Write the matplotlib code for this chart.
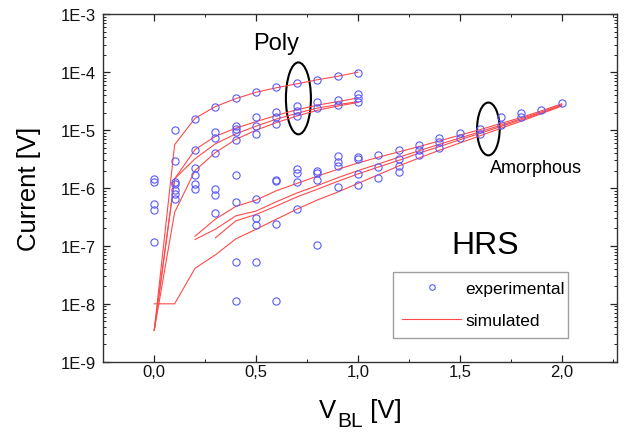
import numpy as np
import matplotlib
matplotlib.use("Agg")
import matplotlib.pyplot as plt
from matplotlib.patches import Ellipse
from matplotlib.lines import Line2D
from matplotlib.ticker import FuncFormatter, LogLocator, MultipleLocator, FixedLocator

plt.rcParams['font.family'] = ['Liberation Sans', 'DejaVu Sans']
plt.rcParams['mathtext.default'] = 'regular'

# ---------------- data ----------------
poly_x = [0.1,
          0.2, 0.2,
          0.3, 0.3, 0.3, 0.3,
          0.4, 0.4, 0.4, 0.4, 0.4,
          0.5, 0.5, 0.5, 0.5,
          0.6, 0.6, 0.6, 0.6,
          0.7, 0.7, 0.7, 0.7,
          0.8, 0.8, 0.8,
          0.9, 0.9, 0.9,
          1.0, 1.0, 1.0, 1.0]
poly_y = [1.0e-5,
          1.58e-5, 4.5e-6,
          2.55e-5, 9.3e-6, 7.3e-6, 4.1e-6,
          3.55e-5, 1.19e-5, 1.04e-5, 9.2e-6, 6.8e-6,
          4.5e-5, 1.66e-5, 1.16e-5, 8.6e-6,
          5.5e-5, 2.09e-5, 1.66e-5, 1.27e-5,
          6.45e-5, 2.57e-5, 2.16e-5, 1.78e-5,
          7.3e-5, 3.1e-5, 2.4e-5,
          8.7e-5, 3.35e-5, 2.7e-5,
          9.7e-5, 4.2e-5, 3.55e-5, 3.0e-5]

amor_x = [0.0, 0.0, 0.0, 0.0, 0.0,
          0.1, 0.1, 0.1, 0.1, 0.1, 0.1,
          0.2, 0.2, 0.2, 0.2,
          0.3, 0.3, 0.3,
          0.4, 0.4, 0.4, 0.4,
          0.5, 0.5, 0.5, 0.5,
          0.6, 0.6, 0.6, 0.6,
          0.7, 0.7, 0.7, 0.7,
          0.8, 0.8, 0.8, 0.8,
          0.9, 0.9, 0.9, 0.9,
          1.0, 1.0, 1.0, 1.0,
          1.1, 1.1, 1.1,
          1.2, 1.2, 1.2, 1.2,
          1.3, 1.3, 1.3,
          1.4, 1.4, 1.4,
          1.5, 1.5,
          1.6, 1.6,
          1.7, 1.7,
          1.8, 1.8,
          1.9,
          2.0]
amor_y = [1.44e-6, 1.29e-6, 5.2e-7, 4.2e-7, 1.15e-7,
          2.95e-6, 1.29e-6, 1.18e-6, 9.4e-7, 7.9e-7, 6.5e-7,
          2.2e-6, 1.7e-6, 1.16e-6, 9.6e-7,
          9.6e-7, 7.6e-7, 3.7e-7,
          1.7e-6, 5.8e-7, 5.2e-8, 1.1e-8,
          6.5e-7, 3.0e-7, 2.3e-7, 5.2e-8,
          1.35e-6, 1.3e-6, 2.4e-7, 1.1e-8,
          2.14e-6, 1.82e-6, 1.29e-6, 4.4e-7,
          2.0e-6, 1.8e-6, 1.35e-6, 1.05e-7,
          3.6e-6, 2.8e-6, 2.4e-6, 1.05e-6,
          3.5e-6, 3.2e-6, 1.74e-6, 1.12e-6,
          3.7e-6, 2.35e-6, 1.48e-6,
          4.6e-6, 3.2e-6, 2.37e-6, 1.9e-6,
          5.5e-6, 4.6e-6, 3.7e-6,
          7.4e-6, 6.2e-6, 4.9e-6,
          8.9e-6, 7.2e-6,
          1.03e-5, 8.6e-6,
          1.66e-5, 1.23e-5,
          1.98e-5, 1.66e-5,
          2.2e-5,
          2.9e-5]

# simulated curves
sim_poly_x = [0.0, 0.1, 0.2, 0.3, 0.4, 0.5, 0.6, 0.7, 0.8, 0.9, 1.0]
sim_p1 = [3.5e-9, 5.6e-6, 1.6e-5, 2.55e-5, 3.5e-5, 4.5e-5, 5.4e-5, 6.3e-5, 7.4e-5, 8.5e-5, 1.0e-4]
sim_p2 = [3.5e-9, 1.44e-6, 4.6e-6, 7.8e-6, 1.08e-5, 1.4e-5, 1.8e-5, 2.25e-5, 2.7e-5, 3.1e-5, 3.6e-5]
sim_p3 = [3.5e-9, 1.44e-6, 3.2e-6, 5.8e-6, 8.6e-6, 1.17e-5, 1.55e-5, 1.95e-5, 2.4e-5, 2.75e-5, 3.1e-5]
sim_p4 = [3.5e-9, 3.8e-7, 2.0e-6, 4.1e-6, 6.9e-6, 1.0e-5, 1.35e-5, 1.75e-5, 2.2e-5, 2.6e-5, 3.0e-5]

sim_a1_x = [0.2, 0.3, 0.4, 0.5, 0.6, 0.7, 0.8, 0.9, 1.0, 1.1, 1.2, 1.3, 1.4, 1.5, 1.6, 1.7, 1.8, 1.9, 2.0]
sim_a1 = [1.47e-7, 2.9e-7, 4.8e-7, 6.2e-7, 9.0e-7, 1.2e-6, 1.6e-6, 2.1e-6, 2.7e-6, 3.4e-6,
          4.2e-6, 5.2e-6, 6.5e-6, 8.2e-6, 1.02e-5, 1.3e-5, 1.65e-5, 2.15e-5, 2.85e-5]
sim_a2_x = [0.2, 0.3, 0.4, 0.5, 0.6, 0.7, 0.8, 0.9, 1.0, 1.1, 1.2, 1.3, 1.4, 1.5, 1.6, 1.7, 1.8, 1.9, 2.0]
sim_a2 = [1.29e-7, 1.94e-7, 3.3e-7, 4.0e-7, 5.8e-7, 8.2e-7, 1.1e-6, 1.5e-6, 2.0e-6, 2.6e-6,
          3.4e-6, 4.4e-6, 5.7e-6, 7.3e-6, 9.4e-6, 1.21e-5, 1.57e-5, 2.05e-5, 2.75e-5]
sim_a3_x = [0.3, 0.4, 0.5, 0.6, 0.7, 0.8, 0.9, 1.0, 1.1, 1.2, 1.3, 1.4, 1.5, 1.6, 1.7, 1.8, 1.9, 2.0]
sim_a3 = [1.38e-7, 2.7e-7, 3.5e-7, 4.9e-7, 7.0e-7, 9.5e-7, 1.3e-6, 1.75e-6, 2.3e-6,
          3.0e-6, 4.0e-6, 5.2e-6, 6.8e-6, 8.8e-6, 1.15e-5, 1.5e-5, 1.98e-5, 2.68e-5]
sim_a4_x = [0.0, 0.1, 0.2, 0.3, 0.4, 0.5, 0.6, 0.7, 0.8, 0.9, 1.0, 1.1, 1.2, 1.3, 1.4, 1.5, 1.6, 1.7, 1.8, 1.9, 2.0]
sim_a4 = [1e-8, 1e-8, 4.1e-8, 7e-8, 1.32e-7, 1.94e-7, 2.9e-7, 4.3e-7, 6.2e-7, 8.5e-7, 1.2e-6, 1.7e-6,
          2.4e-6, 3.3e-6, 4.5e-6, 6.0e-6, 8.0e-6, 1.07e-5, 1.42e-5, 1.92e-5, 2.6e-5]

x_ticks = [0.0, 0.5, 1.0, 1.5, 2.0]
y_ticks = [1e-9, 1e-8, 1e-7, 1e-6, 1e-5, 1e-4, 1e-3]

# ---------------- plot ----------------
W, H = 627, 435
fig = plt.figure(figsize=(W / 100, H / 100), dpi=100)
ax = fig.add_axes([0.1648, 0.1662, 0.8188, 0.7986])

line_c = '#ff4a4a'
mark_c = '#5a5aff'

for sx, sy in [(sim_poly_x, sim_p1), (sim_poly_x, sim_p2), (sim_poly_x, sim_p3), (sim_poly_x, sim_p4),
               (sim_a1_x, sim_a1), (sim_a2_x, sim_a2), (sim_a3_x, sim_a3), (sim_a4_x, sim_a4)]:
    ax.plot(sx, sy, color=line_c, lw=0.8)

ax.plot(poly_x, poly_y, 'o', ms=5.2, mfc='none', mec=mark_c, mew=0.8)
ax.plot(amor_x, amor_y, 'o', ms=5.2, mfc='none', mec=mark_c, mew=0.8)

ax.set_yscale('log')
ax.set_xlim(-0.25, 2.27)
ax.set_ylim(1e-9, 1e-3)

ax.xaxis.set_major_locator(FixedLocator(x_ticks))
ax.xaxis.set_minor_locator(MultipleLocator(0.25))
ax.xaxis.set_major_formatter(FuncFormatter(lambda v, p: f"{v:.1f}".replace('.', ',')))
ax.yaxis.set_major_locator(FixedLocator(y_ticks))
ax.yaxis.set_minor_locator(LogLocator(base=10, subs=np.arange(2, 10)))
ax.yaxis.set_major_formatter(FuncFormatter(lambda v, p: f"1E{int(round(np.log10(v)))}"))

ax.tick_params(which='both', direction='in', top=True, right=True, colors='#222222',
               labelcolor='#111111', labelsize=12)
ax.tick_params(which='major', length=5, width=0.9)
ax.tick_params(which='minor', length=2.5, width=0.7)
ax.tick_params(axis='x', pad=2)
ax.tick_params(axis='y', pad=5.5)
for s in ax.spines.values():
    s.set_linewidth(1.0)
    s.set_color('#333333')

ax.set_ylabel('Current [V]', fontsize=18.5, labelpad=14)

# x label built from pieces (large subscript as in the original)
renderer = fig.canvas.get_renderer()
base_y = 1 - 418 / H
sub_y = 1 - 427 / H
t1 = fig.text(0, base_y, 'V', fontsize=18.5, va='baseline', ha='left')
t2 = fig.text(0, sub_y, 'BL', fontsize=15, va='baseline', ha='left')
t3 = fig.text(0, base_y, ' [V]', fontsize=18.5, va='baseline', ha='left')
w1 = t1.get_window_extent(renderer).width
w2 = t2.get_window_extent(renderer).width
w3 = t3.get_window_extent(renderer).width
bbox_ax = ax.get_position()
cx = (bbox_ax.x0 + bbox_ax.x1) / 2 * W
x0 = cx - (w1 + w2 + w3) / 2
t1.set_x(x0 / W)
t2.set_x((x0 + w1 + 1) / W)
t3.set_x((x0 + w1 + w2 + 1) / W)

# annotations
ax.add_patch(Ellipse((0.380, 0.758), 0.0487, 0.207, transform=ax.transAxes,
                     fill=False, ec='black', lw=1.5))
ax.add_patch(Ellipse((0.750, 0.670), 0.044, 0.152, transform=ax.transAxes,
                     fill=False, ec='black', lw=1.5))
ax.text(0.337, 0.918, 'Poly', transform=ax.transAxes, fontsize=17, ha='center', va='center')
ax.text(0.753, 0.558, 'Amorphous', transform=ax.transAxes, fontsize=13, ha='left', va='center')
ax.text(0.744, 0.335, 'HRS', transform=ax.transAxes, fontsize=23, ha='center', va='center')

handles = [Line2D([], [], ls='none', marker='o', ms=4, mfc='none', mec=mark_c, mew=0.8),
           Line2D([], [], color=line_c, lw=0.8)]
leg = ax.legend(handles, ['experimental', 'simulated'], loc='upper left',
                bbox_to_anchor=(0.564, 0.067, 0.342, 0.192), mode='expand', borderaxespad=0,
                fontsize=12.5, handlelength=3.4, handletextpad=0.22, borderpad=0.55,
                labelspacing=0.95, fancybox=False, frameon=True)
leg.get_frame().set_edgecolor('#888888')
leg.get_frame().set_linewidth(1.0)

fig.savefig('out.png', dpi=100)
